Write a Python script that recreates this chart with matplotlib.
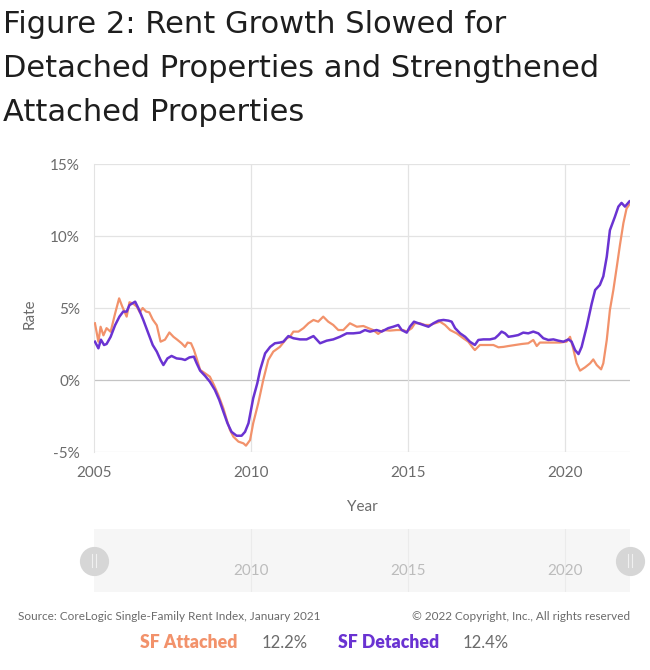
import matplotlib
matplotlib.use('Agg')
import matplotlib.pyplot as plt

# (year, % change)
att_years = [2005.03, 2005.14, 2005.21, 2005.30, 2005.40, 2005.53, 2005.67, 2005.80, 2005.90, 2006.04,
             2006.13, 2006.25, 2006.36, 2006.46, 2006.55, 2006.66, 2006.76, 2006.87, 2007.00, 2007.12,
             2007.26, 2007.40, 2007.53, 2007.65, 2007.79, 2007.90, 2007.98, 2008.09, 2008.18, 2008.27,
             2008.38, 2008.54, 2008.69, 2008.82, 2008.96, 2009.12, 2009.23, 2009.33, 2009.44, 2009.60,
             2009.76, 2009.84, 2009.97, 2010.07, 2010.23, 2010.39, 2010.55, 2010.71, 2010.92, 2011.14,
             2011.24, 2011.35, 2011.51, 2011.67, 2011.83, 2011.99, 2012.14, 2012.30, 2012.46, 2012.62,
             2012.78, 2012.94, 2013.15, 2013.37, 2013.58, 2013.74, 2013.89, 2014.05, 2014.21, 2014.42,
             2014.64, 2014.85, 2014.96, 2015.12, 2015.22, 2015.38, 2015.54, 2015.70, 2015.86, 2016.02,
             2016.18, 2016.34, 2016.55, 2016.76, 2016.92, 2017.08, 2017.13, 2017.29, 2017.50, 2017.72,
             2017.88, 2018.04, 2018.20, 2018.41, 2018.62, 2018.83, 2018.99, 2019.10, 2019.20, 2019.41,
             2019.63, 2019.84, 2020.05, 2020.16, 2020.26, 2020.37, 2020.48, 2020.64, 2020.80, 2020.90,
             2021.01, 2021.15, 2021.22, 2021.33, 2021.43, 2021.54, 2021.65, 2021.75, 2021.86, 2021.96,
             2022.05]
att_rate = [3.94, 2.66, 3.7, 3.1, 3.6, 3.35, 4.6, 5.67, 5.1, 4.4,
            5.4, 5.3, 5.1, 4.7, 5.0, 4.75, 4.7, 4.2, 3.8, 2.66,
            2.8, 3.3, 3.0, 2.8, 2.55, 2.3, 2.6, 2.55, 2.1, 1.5,
            0.7, 0.46, 0.23, -0.35, -1.04, -1.97, -2.78, -3.47, -3.94, -4.28,
            -4.4, -4.56, -4.17, -3.0, -1.62, 0.0, 1.39, 1.97, 2.3, 2.9,
            3.0, 3.36, 3.36, 3.6, 3.94, 4.17, 4.05, 4.4, 4.05, 3.82,
            3.47, 3.47, 3.94, 3.7, 3.75, 3.6, 3.47, 3.2, 3.47, 3.43,
            3.47, 3.47, 3.36, 3.6, 3.94, 3.94, 3.82, 3.82, 3.94, 4.05,
            3.82, 3.47, 3.24, 2.9, 2.66, 2.2, 2.08, 2.43, 2.43, 2.43,
            2.27, 2.3, 2.36, 2.43, 2.5, 2.55, 2.78, 2.36, 2.6, 2.6,
            2.6, 2.6, 2.66, 3.0, 2.2, 1.16, 0.65, 0.88, 1.16, 1.43,
            1.04, 0.74, 1.16, 2.78, 4.86, 6.25, 7.87, 9.38, 10.9, 11.9,
            12.2]

det_years = [2005.03, 2005.14, 2005.22, 2005.32, 2005.40, 2005.53, 2005.67, 2005.81, 2005.93, 2006.04,
             2006.13, 2006.31, 2006.44, 2006.57, 2006.73, 2006.87, 2007.00, 2007.12, 2007.21, 2007.34,
             2007.47, 2007.63, 2007.79, 2007.90, 2008.04, 2008.18, 2008.27, 2008.38, 2008.54, 2008.69,
             2008.85, 2008.99, 2009.12, 2009.25, 2009.38, 2009.54, 2009.70, 2009.81, 2009.92, 2010.07,
             2010.20, 2010.29, 2010.45, 2010.61, 2010.76, 2010.92, 2011.03, 2011.19, 2011.35, 2011.56,
             2011.77, 2011.99, 2012.20, 2012.41, 2012.62, 2012.83, 2013.05, 2013.26, 2013.47, 2013.63,
             2013.79, 2014.00, 2014.16, 2014.37, 2014.53, 2014.69, 2014.80, 2014.96, 2015.06, 2015.19,
             2015.33, 2015.49, 2015.65, 2015.81, 2015.97, 2016.13, 2016.29, 2016.39, 2016.50, 2016.66,
             2016.82, 2016.97, 2017.13, 2017.24, 2017.40, 2017.61, 2017.77, 2017.88, 2017.98, 2018.09,
             2018.20, 2018.35, 2018.51, 2018.67, 2018.83, 2018.99, 2019.15, 2019.31, 2019.47, 2019.63,
             2019.79, 2019.95, 2020.11, 2020.21, 2020.32, 2020.43, 2020.53, 2020.69, 2020.85, 2020.96,
             2021.11, 2021.22, 2021.33, 2021.43, 2021.59, 2021.70, 2021.80, 2021.91, 2022.05]
det_rate = [2.66, 2.2, 2.8, 2.43, 2.5, 3.0, 3.8, 4.4, 4.75, 4.75,
            5.2, 5.44, 4.86, 4.17, 3.24, 2.43, 1.97, 1.39, 1.04, 1.5,
            1.67, 1.5, 1.46, 1.39, 1.57, 1.62, 1.16, 0.65, 0.28, -0.12,
            -0.69, -1.39, -2.2, -3.0, -3.6, -3.87, -3.87, -3.6, -3.0, -1.27,
            -0.23, 0.69, 1.85, 2.3, 2.55, 2.6, 2.66, 3.05, 2.9, 2.82,
            2.82, 3.05, 2.55, 2.73, 2.82, 3.0, 3.24, 3.24, 3.29, 3.47,
            3.36, 3.47, 3.36, 3.6, 3.7, 3.82, 3.47, 3.29, 3.7, 4.05,
            3.94, 3.82, 3.7, 3.94, 4.12, 4.17, 4.12, 4.05, 3.6, 3.24,
            3.0, 2.66, 2.43, 2.78, 2.82, 2.82, 2.9, 3.12, 3.36, 3.24,
            3.0, 3.05, 3.12, 3.29, 3.24, 3.36, 3.24, 2.9, 2.78, 2.82,
            2.73, 2.66, 2.82, 2.66, 2.08, 1.8, 2.3, 3.7, 5.3, 6.25,
            6.6, 7.2, 8.56, 10.4, 11.34, 12.04, 12.3, 12.04, 12.4]

y_ticks = [-5, 0, 5, 10, 15]
x_ticks = [2005, 2010, 2015, 2020]
nav_ticks = [2010, 2015, 2020]

orange = '#f2926b'
purple = '#6a33d2'
grid_c = '#e3e3e3'
label_c = '#6b6b6b'
txt_font = 'Lato'

W, H = 650, 670
fig = plt.figure(figsize=(W / 100, H / 100), dpi=100)
fig.patch.set_facecolor('white')


def fx(px):
    return px / W


def fy(py):
    return 1 - py / H


# title
title_lines = ['Figure 2: Rent Growth Slowed for',
               'Detached Properties and Strengthened',
               'Attached Properties']
for i, line in enumerate(title_lines):
    fig.text(fx(3), fy(33 + i * 44), line, fontsize=22, color='#1e1e1e',
             family='DejaVu Sans', va='baseline', ha='left')

# main chart
x0, x1 = 94, 630
ax = fig.add_axes([fx(x0), fy(452), (x1 - x0) / W, (452 - 164) / H])
xmax = 2005 + (x1 - x0) / 31.4
ax.set_xlim(2005, xmax)
ax.set_ylim(-5, 15)

for s in ['top', 'right', 'bottom']:
    ax.spines[s].set_visible(False)
ax.spines['left'].set_color(grid_c)
ax.spines['left'].set_linewidth(0.8)

for v in y_ticks:
    ax.axhline(v, color='#c4c4c4' if v == 0 else grid_c, lw=0.9, zorder=1)
for v in x_ticks[1:]:
    ax.axvline(v, color=grid_c, lw=0.9, zorder=1)

ax.plot(att_years, att_rate, color=orange, lw=1.6, zorder=3)
ax.plot(det_years, det_rate, color=purple, lw=1.8, zorder=4)

ax.set_yticks(y_ticks)
ax.set_yticklabels([f'{v}%' for v in y_ticks])
ax.set_xticks(x_ticks)
ax.set_xticklabels([str(v) for v in x_ticks])
ax.tick_params(length=0, labelsize=11, labelcolor=label_c, pad=10)
for t in ax.get_xticklabels() + ax.get_yticklabels():
    t.set_family(txt_font)

fig.text(fx(30), fy(314), 'Rate', rotation=90, ha='center', va='center',
         fontsize=11, color=label_c, family=txt_font)
fig.text(fx(362), fy(507), 'Year', ha='center', va='center',
         fontsize=11, color=label_c, family=txt_font)

# navigator strip
nav = fig.add_axes([fx(x0), fy(592), (x1 - x0) / W, (592 - 529) / H])
nav.set_xlim(2005, xmax)
nav.set_ylim(0, 1)
nav.set_facecolor('#f6f6f6')
for s in nav.spines.values():
    s.set_visible(False)
nav.set_xticks([])
nav.set_yticks([])
for v in nav_ticks:
    nav.axvline(v, color='#ebebeb', lw=0.8)
    nav.text(v, 0.33, str(v), ha='center', va='center', fontsize=11,
             color='#bcbcbc', family=txt_font)
for hx in [2005, xmax]:
    nav.plot([hx], [0.5], marker='o', ms=20, color='#d6d6d6', mec='#d6d6d6',
             clip_on=False, zorder=5)
    for dx in [-0.07, 0.07]:
        nav.plot([hx + dx, hx + dx], [0.4, 0.6], color='#f0f0f0', lw=0.8,
                 clip_on=False, zorder=6)

# footer
fig.text(fx(18), fy(617), 'Source: CoreLogic Single-Family Rent Index, January 2021',
         ha='left', va='center', fontsize=8.5, color=label_c, family=txt_font)
fig.text(fx(630), fy(617), '\u00a9 2022 Copyright, Inc., All rights reserved',
         ha='right', va='center', fontsize=8.5, color=label_c, family=txt_font)

legend_items = [('SF Attached', orange, '12.2%', 140, 262),
                ('SF Detached', purple, '12.4%', 338, 463)]
for name, col, val, nx, vx in legend_items:
    fig.text(fx(nx), fy(643), name, ha='left', va='center', fontsize=12.7,
             color=col, family=txt_font, fontweight='heavy')
    fig.text(fx(vx), fy(643), val, ha='left', va='center', fontsize=12,
             color=label_c, family=txt_font)

fig.savefig('out.png', dpi=100, facecolor='white')
